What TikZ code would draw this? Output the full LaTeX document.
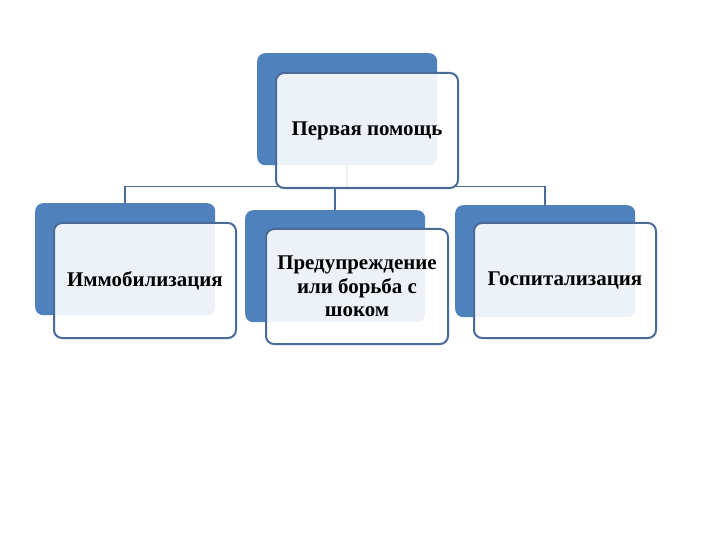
\documentclass[tikz,border=0pt]{standalone}
\usepackage{fontspec}
\setmainfont{Liberation Serif}
\usepackage{tikz}

\definecolor{boxblue}{HTML}{4F81BD}
\definecolor{rimblue}{HTML}{4A6A98}

\tikzset{
backbox/.style={rectangle, rounded corners=8bp, fill=boxblue, inner sep=0pt,
  minimum width=180bp, minimum height=112bp, anchor=north west},
frontbox/.style={rectangle, rounded corners=8bp, draw=rimblue, line width=2bp,
  fill=white, fill opacity=0.9, text opacity=1, inner sep=0pt,
  minimum width=182bp, minimum height=115bp, anchor=north west, align=center,
  font=\bfseries\fontsize{21}{23.5}\selectfont},
conn/.style={draw=rimblue, line width=1.6bp}
}

\begin{document}
\begin{tikzpicture}[x=1bp,y=-1bp]
\useasboundingbox (0,0) rectangle (720,540);
% blue boxes at the back
\node[backbox] (topb) at (257,53) {};
\foreach \n/\x/\y in {lb/35/203, mb/245/210, rb/455/205} {
\node[backbox] (\n) at (\x,\y) {};
}
% lines from the top box down to the three boxes
\foreach \n in {lb,mb,rb} {
\draw[conn] (topb.south) -- ++(0,21) -| (\n.north);
}
% white boxes with the text
\node[frontbox] (topf) at (275,72) {Первая помощь};
\node[frontbox] (lf) at (53,222) {Иммобилизация};
\node[frontbox] (mf) at (265,228) {Предупреждение\\или борьба с\\шоком};
\node[frontbox] (rf) at (473,222) {Госпитализация};
\end{tikzpicture}
\end{document}
